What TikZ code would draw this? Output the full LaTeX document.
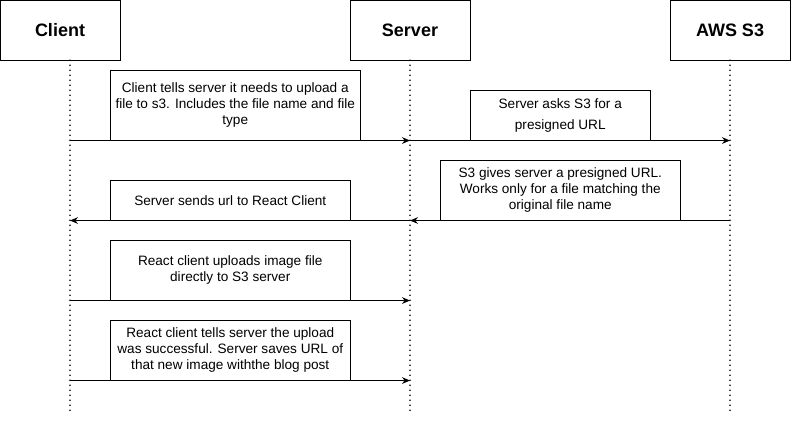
\documentclass[tikz,border=0pt]{standalone}
\usepackage{fontspec}
\setmainfont{Liberation Sans}
\usetikzlibrary{arrows.meta}

\begin{document}
\begin{tikzpicture}[x=0.75pt, y=-0.75pt,
    actor/.style={rectangle, draw, minimum width=90pt, minimum height=45pt,
      font=\fontsize{13.5}{15}\selectfont\bfseries},
    note/.style={rectangle, draw, anchor=north west, align=center,
      font=\fontsize{10.2}{12}\selectfont, inner sep=0pt},
    lifeline/.style={line width=1.3pt, dash pattern=on 0pt off 3.75pt, line cap=round},
    msg/.style={-{Stealth[length=6pt, width=5pt, inset=2pt]}, line width=0.6pt},
    ]
    \useasboundingbox (0,0) rectangle (791,423);
    % participants
    \node[actor] (client) at (60,30) {Client};
    \node[actor] (server) at (410,30) {Server};
    \node[actor] (s3) at (730,30) {AWS S3};
    \coordinate (clientend) at (70,415);
    \coordinate (serverend) at (410,415);
    \coordinate (s3end) at (730,415);
    \draw[lifeline] (client.south -| clientend) -- (clientend);
    \draw[lifeline] (server.south) -- (serverend);
    \draw[lifeline] (s3.south -| s3end) -- (s3end);

    % messages
    \node[note, minimum width=187.5pt, minimum height=52.5pt] (ask) at (110,70)
      {Client tells server it needs to upload a\\file to s3. Includes the file name and file\\type};
    \node[note, minimum width=135pt, minimum height=37.5pt] (presign) at (470,90)
      {Server asks S3 for a\\[3.5pt]presigned URL};
    \node[note, minimum width=180pt, minimum height=45pt] (gives) at (440,160)
      {S3 gives server a presigned URL.\\Works only for a file matching the\\original file name};
    \node[note, minimum width=180pt, minimum height=30pt] (sends) at (110,180)
      {Server sends url to React Client};
    \node[note, minimum width=180pt, minimum height=45pt] (upload) at (110,240)
      {React client uploads image file\\directly to S3 server};
    \node[note, minimum width=180pt, minimum height=45pt] (done) at (110,320)
      {React client tells server the upload\\was successful. Server saves URL of\\that new image withthe blog post};

    \draw[msg] (ask.south -| clientend) -- (ask.south -| serverend);
    \draw[msg] (presign.south -| serverend) -- (presign.south -| s3end);
    \draw[msg] (gives.south -| s3end) -- (gives.south -| serverend);
    \draw[msg] (sends.south -| serverend) -- (sends.south -| clientend);
    \draw[msg] (upload.south -| clientend) -- (upload.south -| serverend);
    \draw[msg] (done.south -| clientend) -- (done.south -| serverend);
  \end{tikzpicture}
\end{document}
